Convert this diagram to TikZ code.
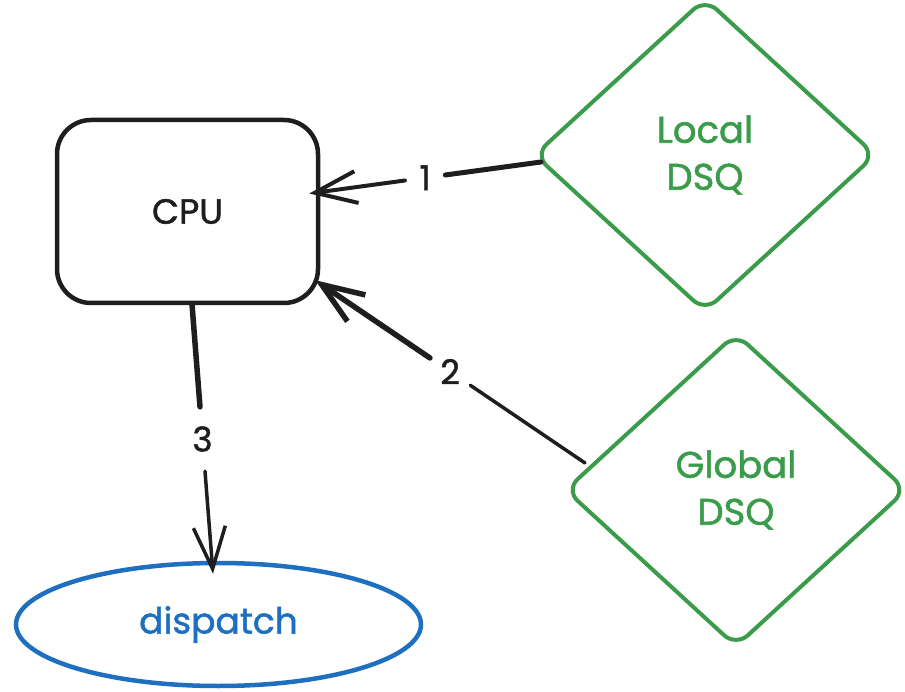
\documentclass[tikz,border=0pt]{standalone}
\usepackage{fontspec}
\setmainfont{Poppins}
\newfontfamily\handfont{Poppins}[FakeBold=1.4]
\usetikzlibrary{shapes.geometric,arrows.meta}
\definecolor{ink}{HTML}{1E1E1E}
\definecolor{dsqgreen}{HTML}{3A9C4A}
\definecolor{dispblue}{HTML}{1F6FC0}
\tikzset{
  cpubox/.style={draw=ink, line width=4.5pt, rounded corners=34pt,
    minimum width=261pt, minimum height=183pt, text=ink,
    font=\handfont\fontsize{35}{42}\selectfont},
  queue/.style={diamond, draw=dsqgreen, line width=4pt, rounded corners=16pt,
    minimum width=342pt, minimum height=314pt, inner sep=0pt, text=dsqgreen,
    align=center, font=\handfont\fontsize{37}{47}\selectfont},
  target/.style={ellipse, draw=dispblue, line width=4.5pt,
    minimum width=405pt, minimum height=123pt, text=dispblue,
    font=\handfont\fontsize{36}{42}\selectfont},
  numlabel/.style={inner sep=0pt, minimum width=40pt, minimum height=64pt,
    text=ink, font=\handfont\fontsize{34}{40}\selectfont},
  wire/.style={draw=ink, line cap=round, line join=round},
  tipped/.style={-{Straight Barb[length=42pt,width=32pt]}}
}
\begin{document}
\begin{tikzpicture}[x=1pt,y=-1pt]
  \useasboundingbox (0,0) rectangle (905,692);

  % shapes
  \node[cpubox] (cpu) at (187.5,211.5) {CPU};
  \node[queue] (local) at (705,155) {Local\\DSQ};
  \node[queue] (global) at (736,490) {Global\\DSQ};
  \node[target] (dispatch) at (218.5,624.5) {dispatch};

  % connector end points
  \coordinate (a1) at ([xshift=9pt,yshift=-7pt]local.west);
  \coordinate (t1) at ([xshift=-11pt,yshift=18pt]cpu.east);
  \coordinate (a2) at ([xshift=22pt,yshift=27pt]global.west);
  \coordinate (t2) at ([xshift=-5pt,yshift=25pt]cpu.south east);
  \coordinate (a3) at ([xshift=4.5pt,yshift=1pt]cpu.south);
  \coordinate (t3) at ([xshift=-5.5pt,yshift=-13pt]dispatch.north);

  % step numbers
  \path (a1) -- node[numlabel] (n1) {1} (t1);
  \path (a2) -- node[numlabel] (n2) {2} (t2);
  \path (a3) -- node[numlabel] (n3) {3} (t3);

  % connectors
  \draw[wire, line width=5pt] (a1) -- (n1);
  \draw[wire, line width=4pt, tipped] (n1) -- (t1);
  \draw[wire, line width=3.5pt] (a2) -- (n2);
  \draw[wire, line width=5.5pt, tipped] (n2) -- (t2);
  \draw[wire, line width=5.5pt] (a3) -- (n3);
  \draw[wire, line width=3.5pt, tipped] (n3) -- (t3);
\end{tikzpicture}
\end{document}
